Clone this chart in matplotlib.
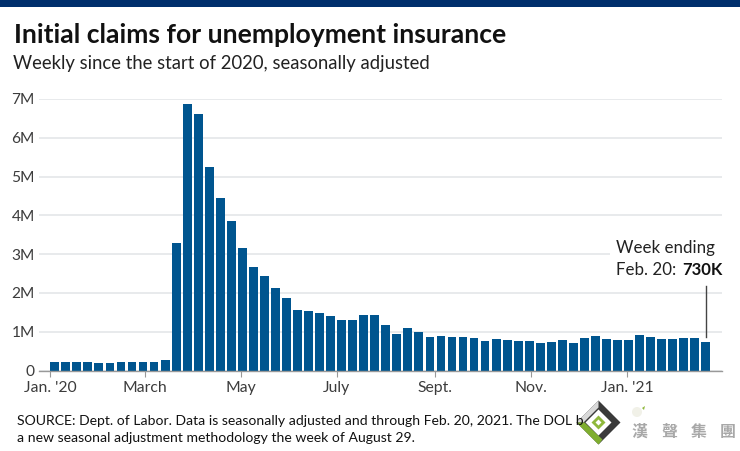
import matplotlib
matplotlib.use("Agg")
import matplotlib.pyplot as plt
from matplotlib.patches import Polygon, Rectangle, Circle
import pandas as pd

W, H = 740, 451
FONT = "Lato"
BLUE = "#00558f"
TEXT = "#3c3c3c"

weeks = pd.date_range("2020-01-04", periods=60, freq="7D")
claims = [0.21, 0.21, 0.22, 0.21, 0.20, 0.20, 0.21, 0.22, 0.22, 0.21,
          0.28, 3.30, 6.86, 6.61, 5.24, 4.44, 3.86, 3.16, 2.67, 2.43,
          2.12, 1.88, 1.56, 1.53, 1.47, 1.40, 1.30, 1.30, 1.42, 1.43,
          1.18, 0.95, 1.09, 1.00, 0.87, 0.885, 0.86, 0.87, 0.84, 0.76,
          0.825, 0.79, 0.75, 0.75, 0.70, 0.73, 0.775, 0.705, 0.85, 0.88,
          0.80, 0.775, 0.775, 0.91, 0.86, 0.81, 0.81, 0.84, 0.835, 0.73]
tick_dates = pd.to_datetime(["2020-01-01", "2020-03-01", "2020-05-01", "2020-07-01",
                             "2020-09-01", "2020-11-01", "2021-01-01"])
tick_labels = ["Jan. '20", "March", "May", "July", "Sept.", "Nov.", "Jan. '21"]
y_ticks = [0, 1, 2, 3, 4, 5, 6, 7]
y_labels = ["0", "1M", "2M", "3M", "4M", "5M", "6M", "7M"]


def px_axes(left, top, right, bottom):
    return [left / W, 1 - bottom / H, (right - left) / W, (bottom - top) / H]


fig = plt.figure(figsize=(W / 100, H / 100), dpi=100, facecolor="white")
ax = fig.add_axes(px_axes(39, 99, 722, 370.5))

ax.bar(weeks, claims, width=5.6, color=BLUE, zorder=3)
ax.set_ylim(0, 7)
ax.set_xlim(pd.Timestamp("2020-01-01") - pd.Timedelta(days=7),
            pd.Timestamp("2020-01-01") + pd.Timedelta(days=426.3))

ax.set_yticks(y_ticks)
ax.set_yticklabels(y_labels, fontsize=11.2, color=TEXT, fontfamily=FONT)
ax.set_xticks(tick_dates)
ax.set_xticklabels(tick_labels, fontsize=11.3, color=TEXT, fontfamily=FONT)
ax.tick_params(axis="y", length=0, pad=3)
ax.tick_params(axis="x", length=4, width=0.8, color="#999999", pad=3.5)
ax.grid(axis="y", color="#e6e8ea", linewidth=1.3, zorder=0)
ax.set_axisbelow(True)
for side in ["top", "right", "left"]:
    ax.spines[side].set_visible(False)
ax.spines["bottom"].set_color("#999999")
ax.spines["bottom"].set_linewidth(1)
ax.spines["bottom"].set_zorder(4)

# callout for the latest week
ax.plot([weeks[-1], weeks[-1]], [0.87, 2.17], color="#444444", linewidth=1, zorder=5,
        clip_on=False)
ax.add_patch(Rectangle((610 / W, 1 - 282 / H), 125 / W, 44 / H, transform=fig.transFigure,
                       facecolor="white", edgecolor="none", zorder=4, clip_on=False))

# overlay in pixel coordinates for the header, footer and logo
ov = fig.add_axes([0, 0, 1, 1], facecolor="none")
ov.set_xlim(0, W)
ov.set_ylim(H, 0)
ov.axis("off")

ov.add_patch(Rectangle((0, 0), W, 6.5, facecolor="#002f6c", edgecolor="none"))
ov.text(14, 35, "Initial claims for unemployment insurance", fontsize=19.1, fontweight="bold",
        color="#111111", family=FONT, va="center")
ov.text(13, 63, "Weekly since the start of 2020, seasonally adjusted", fontsize=13.35,
        color="#222222", family=FONT, va="center")
ov.text(616, 248, "Week ending", fontsize=12.2, color="#222222", family=FONT, va="center")
ov.text(616, 270, "Feb. 20:", fontsize=12.2, color="#222222", family=FONT, va="center")
ov.text(682.5, 270, "730K", fontsize=12, fontweight="bold", color="#111111", family=FONT,
        va="center")

ov.text(17, 421, "SOURCE: Dept. of Labor. Data is seasonally adjusted and through Feb. 20, 2021. The DOL b",
        fontsize=10.05, color="#111111", family=FONT, va="center")
ov.text(17, 438, "a new seasonal adjustment methodology the week of August 29.",
        fontsize=10.05, color="#111111", family=FONT, va="center")

# watermark logo
cx, cy = 598.5, 422.5
ov.add_patch(Polygon([(cx, cy - 22), (cx + 22, cy), (cx, cy + 22), (cx - 22, cy)],
                     facecolor="#3a3a3a", edgecolor="none"))
ov.add_patch(Polygon([(cx, cy - 22), (cx - 22, cy), (cx - 15, cy), (cx, cy - 15)],
                     facecolor="#d8d8d8", edgecolor="none"))
ov.add_patch(Polygon([(cx - 22, cy), (cx, cy + 22), (cx + 4, cy + 17), (cx - 14, cy)],
                     facecolor="#7fae2f", edgecolor="none"))
ov.add_patch(Polygon([(cx, cy - 13), (cx + 13, cy), (cx, cy + 13), (cx - 13, cy)],
                     facecolor="white", edgecolor="none"))
ov.add_patch(Polygon([(cx, cy - 7), (cx + 7, cy), (cx, cy + 7), (cx - 7, cy)],
                     facecolor="#8fb83c", edgecolor="none"))
ov.add_patch(Polygon([(cx, cy - 3), (cx + 3, cy), (cx, cy + 3), (cx - 3, cy)],
                     facecolor="white", edgecolor="none"))
ov.add_patch(Circle((637, 412), 5, facecolor="#f1f1e8", edgecolor="none"))
ov.add_patch(Polygon([(642, 408), (645, 406), (644, 410)], facecolor="#8fb83c", edgecolor="none"))
for x, ch in zip([639, 669, 699, 728], ["漢", "聲", "集", "團"]):
    ov.text(x, 432, ch, fontsize=11.5, fontweight="bold", color="#a8a8a8",
            family="Noto Sans CJK TC", ha="center", va="center")

fig.savefig("out.png", dpi=100)
